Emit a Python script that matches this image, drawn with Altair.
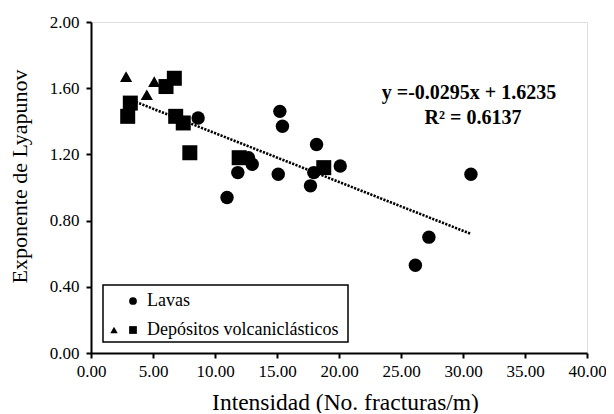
import altair as alt
import pandas as pd

# Lavas (circles)
lavas_x = [8.64, 12.7, 13.0, 11.84, 10.97, 15.23, 15.44, 15.1, 18.19, 17.97, 17.7, 20.1, 30.64, 27.25, 26.16]
lavas_y = [1.42, 1.18, 1.14, 1.09, 0.94, 1.46, 1.37, 1.08, 1.26, 1.09, 1.01, 1.13, 1.08, 0.70, 0.53]
# Depositos volcaniclasticos (triangles)
tri_x = [2.83, 5.1, 4.5]
tri_y = [1.67, 1.64, 1.56]
# Depositos volcaniclasticos (squares)
sq_x = [6.72, 6.05, 3.17, 2.96, 6.83, 7.44, 7.97, 11.95, 18.77]
sq_y = [1.66, 1.61, 1.51, 1.43, 1.43, 1.39, 1.21, 1.18, 1.12]

slope = -0.0295
intercept = 1.6235
eq_text = "y =-0.0295x + 1.6235"
r2_text = "R² = 0.6137"

x_ticks = [0, 5, 10, 15, 20, 25, 30, 35, 40]
y_ticks = [0, 0.4, 0.8, 1.2, 1.6, 2.0]

FONT = "Liberation Serif"

df_l = pd.DataFrame({"x": lavas_x, "y": lavas_y})
df_t = pd.DataFrame({"x": tri_x, "y": tri_y})
df_s = pd.DataFrame({"x": sq_x, "y": sq_y})

all_x = lavas_x + tri_x + sq_x
xmin, xmax = min(all_x), max(all_x)
df_line = pd.DataFrame({"x": [xmin, xmax], "y": [slope * xmin + intercept, slope * xmax + intercept]})

xs = alt.Scale(domain=[0, 40], nice=False, zero=False)
ys = alt.Scale(domain=[0, 2], nice=False, zero=False)

x_axis = alt.Axis(values=x_ticks, format=".2f", title="Intensidad (No. fracturas/m)",
                  grid=False, domainColor="black", domainWidth=2, tickColor="black",
                  tickWidth=2, tickSize=5, labelFont=FONT, labelFontSize=17, labelColor="black",
                  labelPadding=5, titleFont=FONT, titleFontSize=23.5, titleFontWeight="normal",
                  titleColor="black", titleX=254, titleY=56, titleBaseline="alphabetic",
                  labelFlush=False)
y_axis = alt.Axis(values=y_ticks, format=".2f", title="Exponente de Lyapunov",
                  grid=False, domainColor="black", domainWidth=2, tickColor="black",
                  tickWidth=2, tickSize=5, labelFont=FONT, labelFontSize=17, labelColor="black",
                  labelPadding=7, titleFont=FONT, titleFontSize=22, titleFontWeight="normal",
                  titleColor="black", titleX=-65, titleY=154, titleBaseline="alphabetic",
                  labelFlush=False)

line = alt.Chart(df_line).mark_line(color="black", strokeWidth=2.6, strokeDash=[2.2, 1.3]).encode(
    x=alt.X("x:Q", scale=xs, axis=x_axis), y=alt.Y("y:Q", scale=ys, axis=y_axis))

circles = alt.Chart(df_l).mark_point(shape="circle", filled=True, color="black", opacity=1, size=180).encode(
    x=alt.X("x:Q", scale=xs), y=alt.Y("y:Q", scale=ys))
tris = alt.Chart(df_t).mark_point(shape="triangle-up", filled=True, color="black", opacity=1, size=150).encode(
    x=alt.X("x:Q", scale=xs), y=alt.Y("y:Q", scale=ys))
squares = alt.Chart(df_s).mark_point(shape="square", filled=True, color="black", opacity=1, size=225).encode(
    x=alt.X("x:Q", scale=xs), y=alt.Y("y:Q", scale=ys))

eq = alt.Chart(pd.DataFrame({"t": [eq_text]})).mark_text(
    font=FONT, fontSize=20, fontWeight="bold", color="black", align="center", baseline="middle").encode(
    text="t:N", x=alt.value(378), y=alt.value(71))
r2 = alt.Chart(pd.DataFrame({"t": [r2_text]})).mark_text(
    font=FONT, fontSize=20, fontWeight="bold", color="black", align="center", baseline="middle").encode(
    text="t:N", x=alt.value(382), y=alt.value(96))

# legend (decoration)
leg_box = alt.Chart(pd.DataFrame({"a": [0]})).mark_rect(fill="white", stroke="black", strokeWidth=1.5).encode(
    x=alt.value(12), x2=alt.value(257), y=alt.value(263), y2=alt.value(320))
leg_c = alt.Chart(pd.DataFrame({"a": [0]})).mark_point(shape="circle", filled=True, color="black", opacity=1, size=60).encode(
    x=alt.value(42), y=alt.value(279))
leg_t = alt.Chart(pd.DataFrame({"a": [0]})).mark_point(shape="triangle-up", filled=True, color="black", opacity=1, size=55).encode(
    x=alt.value(23), y=alt.value(308))
leg_s = alt.Chart(pd.DataFrame({"a": [0]})).mark_point(shape="square", filled=True, color="black", opacity=1, size=60).encode(
    x=alt.value(42), y=alt.value(308))
leg_txt = alt.Chart(pd.DataFrame({"t": ["Lavas", "Depósitos volcaniclásticos"], "yy": [279, 308]})).mark_text(
    font=FONT, fontSize=18, color="black", align="left", baseline="middle").encode(
    text="t:N", x=alt.value(56), y=alt.Y("yy:Q", scale=None))

chart = alt.layer(line, circles, squares, tris, eq, r2, leg_box, leg_c, leg_t, leg_s, leg_txt).properties(
    width=496, height=331,
    autosize=alt.AutoSizeParams(type="none"),
    padding={"left": 83, "top": 14, "right": 19, "bottom": 60},
).configure_view(stroke=None).configure(background="white")

chart.save("out.html", embed_options={"renderer": "svg", "actions": False})
